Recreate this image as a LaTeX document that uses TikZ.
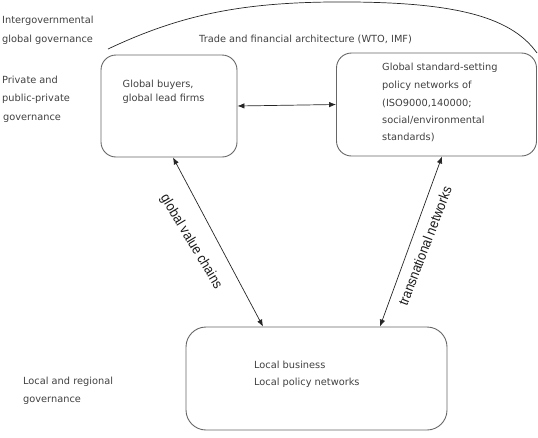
\documentclass[tikz,border=0pt]{standalone}
\usepackage{fontspec}
\setmainfont{DejaVu Sans}
\newfontfamily\labelfont[FakeStretch=0.9]{Liberation Sans}
\usetikzlibrary{arrows.meta,calc}
\begin{document}
\begin{tikzpicture}[x=1pt,y=-1pt,
  box/.style={draw=black!60, line width=0.9pt, rounded corners=15pt, inner sep=0pt},
  txt/.style={font=\fontsize{9.8}{12}\selectfont, text=black!75, anchor=base west, inner sep=0pt},
  link/.style={draw=black!85, line width=0.7pt, {Latex[length=7pt,width=5.5pt]}-{Latex[length=7pt,width=5.5pt]}},
  lab/.style={font=\labelfont\fontsize{14}{16}\selectfont, text=black!90, inner sep=0pt}]
\useasboundingbox (0,0) rectangle (538,437);

% boxes
\node[box, minimum width=136pt, minimum height=102pt] (b1) at (169,106) {};
\node[box, minimum width=200pt, minimum height=103pt] (b2) at (436.5,104.5) {};
\node[box, rounded corners=20pt, minimum width=261pt, minimum height=103pt] (b3) at (316.5,378.5) {};

% arc
\coordinate (arcA) at (108,49);
\coordinate (arcB) at (330,2);
\coordinate (arcC) at (537,53);
\draw[black!85, line width=0.7pt] (arcA) .. controls (180,15) and (240,3) .. (arcB)
  .. controls (450,1) and (510,15) .. (arcC);

% left labels
\node[txt] (l1) at (2,23) {Intergovernmental};
\node[txt] (l2) at (2,42) {global governance};
\node[txt] (l3) at (2,83) {Private and};
\node[txt] (l4) at (2,101) {public-private};
\node[txt] (l5) at (3,120) {governance};
\node[txt] (l6) at (23,384) {Local and regional};
\node[txt] (l7) at (23,402) {governance};

\node[txt] (tr) at (199,42) {Trade and financial architecture (WTO, IMF)};

% box texts
\node[txt] (g1) at (122.5,87) {Global buyers,};
\node[txt] (g2) at (122.5,101) {global lead firms};

\node[txt] (s1) at (382,70) {Global standard-setting};
\node[txt] (s2) at (382,88) {policy networks of};
\node[txt] (s3) at (382,106) {(ISO9000,140000;};
\node[txt] (s4) at (382,123) {social/environmental};
\node[txt] (s5) at (382,140) {standards)};

\node[txt] (c1) at (254,368) {Local business};
\node[txt] (c2) at (254,385) {Local policy networks};

% connectors
\draw[link] (b1.east) -- (b2.west);
\draw[link] ([xshift=4pt]b1.south) -- ([xshift=-53.5pt]b3.north);
\draw[link] ([xshift=5.5pt]b2.south) -- ([xshift=63.5pt]b3.north);

% connector labels
\node[lab, rotate=-59] (gvc) at (191,242) {global value chains};
\node[lab, rotate=69] (tn) at (425,246) {transnational networks};
\end{tikzpicture}
\end{document}
